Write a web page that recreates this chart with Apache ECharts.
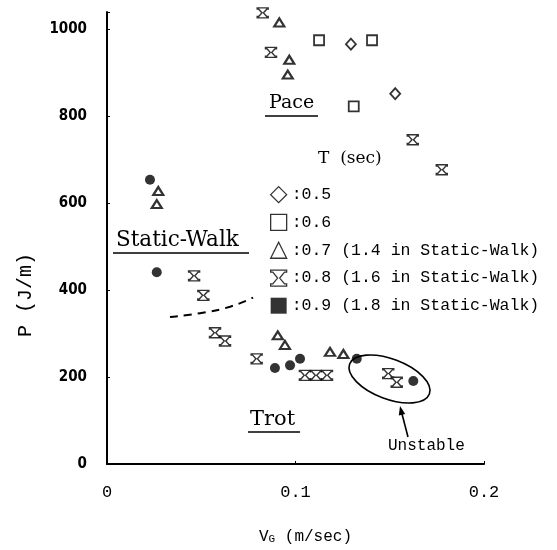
<!DOCTYPE html>
<html><head><meta charset="utf-8">
<script src="https://cdn.jsdelivr.net/npm/echarts@6/dist/echarts.min.js"></script>
<style>html,body{margin:0;padding:0;background:#fff}#c{width:557px;height:550px}</style>
</head><body><div id="c"></div>
<script>
// ---- data ----
const seriesNames = ['0.5', '0.6', '0.7 (1.4 in Static-Walk)', '0.8 (1.6 in Static-Walk)', '0.9 (1.8 in Static-Walk)'];
const t05 = [[0.1294, 966], [0.1529, 852]];
const t06 = [[0.1125, 975], [0.1406, 975], [0.1309, 823]];
const t07 = [[0.0914, 1016], [0.0967, 930], [0.0959, 896], [0.0272, 628], [0.0264, 598],
             [0.0906, 296], [0.0944, 274], [0.1183, 258], [0.1254, 253]];
const t08 = [[0.0826, 1038], [0.0870, 947], [0.1622, 746], [0.1776, 677], [0.0462, 433],
             [0.0511, 388], [0.0573, 302], [0.0626, 283], [0.0794, 242], [0.1050, 204],
             [0.1109, 204], [0.1167, 204], [0.1492, 208], [0.1537, 188]];
const t09 = [[0.0228, 654], [0.0264, 441], [0.0891, 221], [0.0971, 227], [0.1024, 242],
             [0.1325, 242], [0.1625, 191]];
const boundaryCurve = [[0.0334, 338], [0.0493, 347], [0.0653, 362], [0.0775, 383]];
const xTickLabels = ['0', '0.1', '0.2'];
const yTickLabels = ['0', '200', '400', '600', '800', '1000'];

// ---- chart ----
const hourglass = 'path://M0,0H12V1.6H10.4L6.8,6L10.4,10.4H12V12H0V10.4H1.6L5.2,6L1.6,1.6H0Z';
const mono = "'Liberation Mono','DejaVu Sans Mono',monospace";
const openStyle = {color: '#fff', borderColor: '#000', borderWidth: 1.8};

const chart = echarts.init(document.getElementById('c'), null, {renderer: 'canvas'});
chart.setOption({
  animation: false,
  backgroundColor: '#fff',
  grid: {left: 107, right: 73, top: 12, bottom: 76},
  xAxis: {
    type: 'value', min: 0, max: 0.2, interval: 0.1,
    axisLine: {lineStyle: {color: '#000', width: 2}},
    axisTick: {inside: true, length: 3, lineStyle: {color: '#000'}},
    splitLine: {show: false},
    axisLabel: {
      margin: 20, color: '#000', fontFamily: mono, fontSize: 17,
      formatter: v => { const i = Math.round(v / 0.1); return Math.abs(v - i * 0.1) < 1e-9 ? (xTickLabels[i] || '') : ''; }
    },
    name: 'V{sub|G} (m/sec)', nameLocation: 'middle', nameGap: 64,
    nameTextStyle: {color: '#000', fontFamily: mono, fontSize: 16, padding: [0, 0, 0, 20],
      rich: {sub: {fontSize: 11, fontFamily: mono, verticalAlign: 'bottom', padding: [6, 0, 0, 0]}}}
  },
  yAxis: {
    type: 'value', min: 0, max: 1040, interval: 200,
    axisLine: {lineStyle: {color: '#000', width: 2}},
    axisTick: {inside: true, length: 3, lineStyle: {color: '#000'}},
    splitLine: {show: false},
    axisLabel: {
      margin: 20, color: '#000', fontFamily: "'DejaVu Sans Condensed','Liberation Sans Narrow',sans-serif",
      fontWeight: 'bold', fontSize: 15,
      formatter: v => (v % 200 === 0 ? (yTickLabels[v / 200] || '') : '')
    }
  },
  legend: {
    orient: 'vertical', left: 265, top: 181, itemGap: 10.5,
    itemWidth: 16, itemHeight: 16,
    itemStyle: {borderWidth: 1.3},
    formatter: n => ':' + n,
    textStyle: {color: '#000', fontFamily: mono, fontSize: 16.5},
    data: [
      {name: seriesNames[0], icon: 'diamond'},
      {name: seriesNames[1], icon: 'rect'},
      {name: seriesNames[2], icon: 'triangle'},
      {name: seriesNames[3], icon: hourglass},
      {name: seriesNames[4], icon: 'rect'}
    ]
  },
  series: [
    {name: seriesNames[0], type: 'scatter', data: t05, symbol: 'diamond', symbolSize: [10, 11], itemStyle: openStyle},
    {name: seriesNames[1], type: 'scatter', data: t06, symbol: 'rect', symbolSize: 10, itemStyle: openStyle},
    {name: seriesNames[2], type: 'scatter', data: t07, symbol: 'triangle', symbolSize: [10, 8],
      itemStyle: {color: '#fff', borderColor: '#000', borderWidth: 2.2}},
    {name: seriesNames[3], type: 'scatter', data: t08, symbol: hourglass, symbolSize: [11, 10],
      itemStyle: {color: '#fff', borderColor: '#000', borderWidth: 1.4}},
    {name: seriesNames[4], type: 'scatter', data: t09, symbol: 'circle', symbolSize: 10, itemStyle: {color: '#000'}},
    {name: 'boundary', type: 'line', data: boundaryCurve, smooth: true, symbol: 'none',
      lineStyle: {color: '#000', width: 2, type: [8, 6]}, silent: true}
  ],
  graphic: [
    {type: 'text', x: 26, y: 295, rotation: Math.PI / 2,
      style: {text: 'P (J/m)', font: "20px 'Liberation Mono',monospace", fill: '#000', align: 'center', verticalAlign: 'middle'}},
    {type: 'text', left: 269, top: 94, style: {text: 'Pace', font: "19px 'DejaVu Serif',serif", fill: '#000'}},
    {type: 'line', shape: {x1: 265, y1: 116, x2: 318, y2: 116}, style: {stroke: '#000', lineWidth: 1.6}},
    {type: 'text', left: 116, top: 229, style: {text: 'Static-Walk', font: "21.5px 'DejaVu Serif',serif", fill: '#000'}},
    {type: 'line', shape: {x1: 113, y1: 253, x2: 249, y2: 253}, style: {stroke: '#000', lineWidth: 1.6}},
    {type: 'text', left: 250, top: 409, style: {text: 'Trot', font: "21px 'DejaVu Serif',serif", fill: '#000'}},
    {type: 'line', shape: {x1: 248, y1: 432, x2: 300, y2: 432}, style: {stroke: '#000', lineWidth: 1.6}},
    {type: 'text', left: 318, top: 150, style: {text: 'T  (sec)', font: "17px 'DejaVu Serif',serif", fill: '#000'}},
    {type: 'text', left: 388, top: 438, style: {text: 'Unstable', font: "16px 'Liberation Mono',monospace", fill: '#000'}},
    {type: 'ellipse', x: 389.5, y: 379, rotation: -0.36, shape: {cx: 0, cy: 0, rx: 42.6, ry: 20},
      style: {fill: 'none', stroke: '#000', lineWidth: 1.6}},
    {type: 'line', shape: {x1: 408, y1: 437, x2: 401.5, y2: 412}, style: {stroke: '#000', lineWidth: 1.6}},
    {type: 'polygon', shape: {points: [[400, 406], [405.2, 414], [398.8, 415.6]]}, style: {fill: '#000'}}
  ]
});
</script></body></html>
